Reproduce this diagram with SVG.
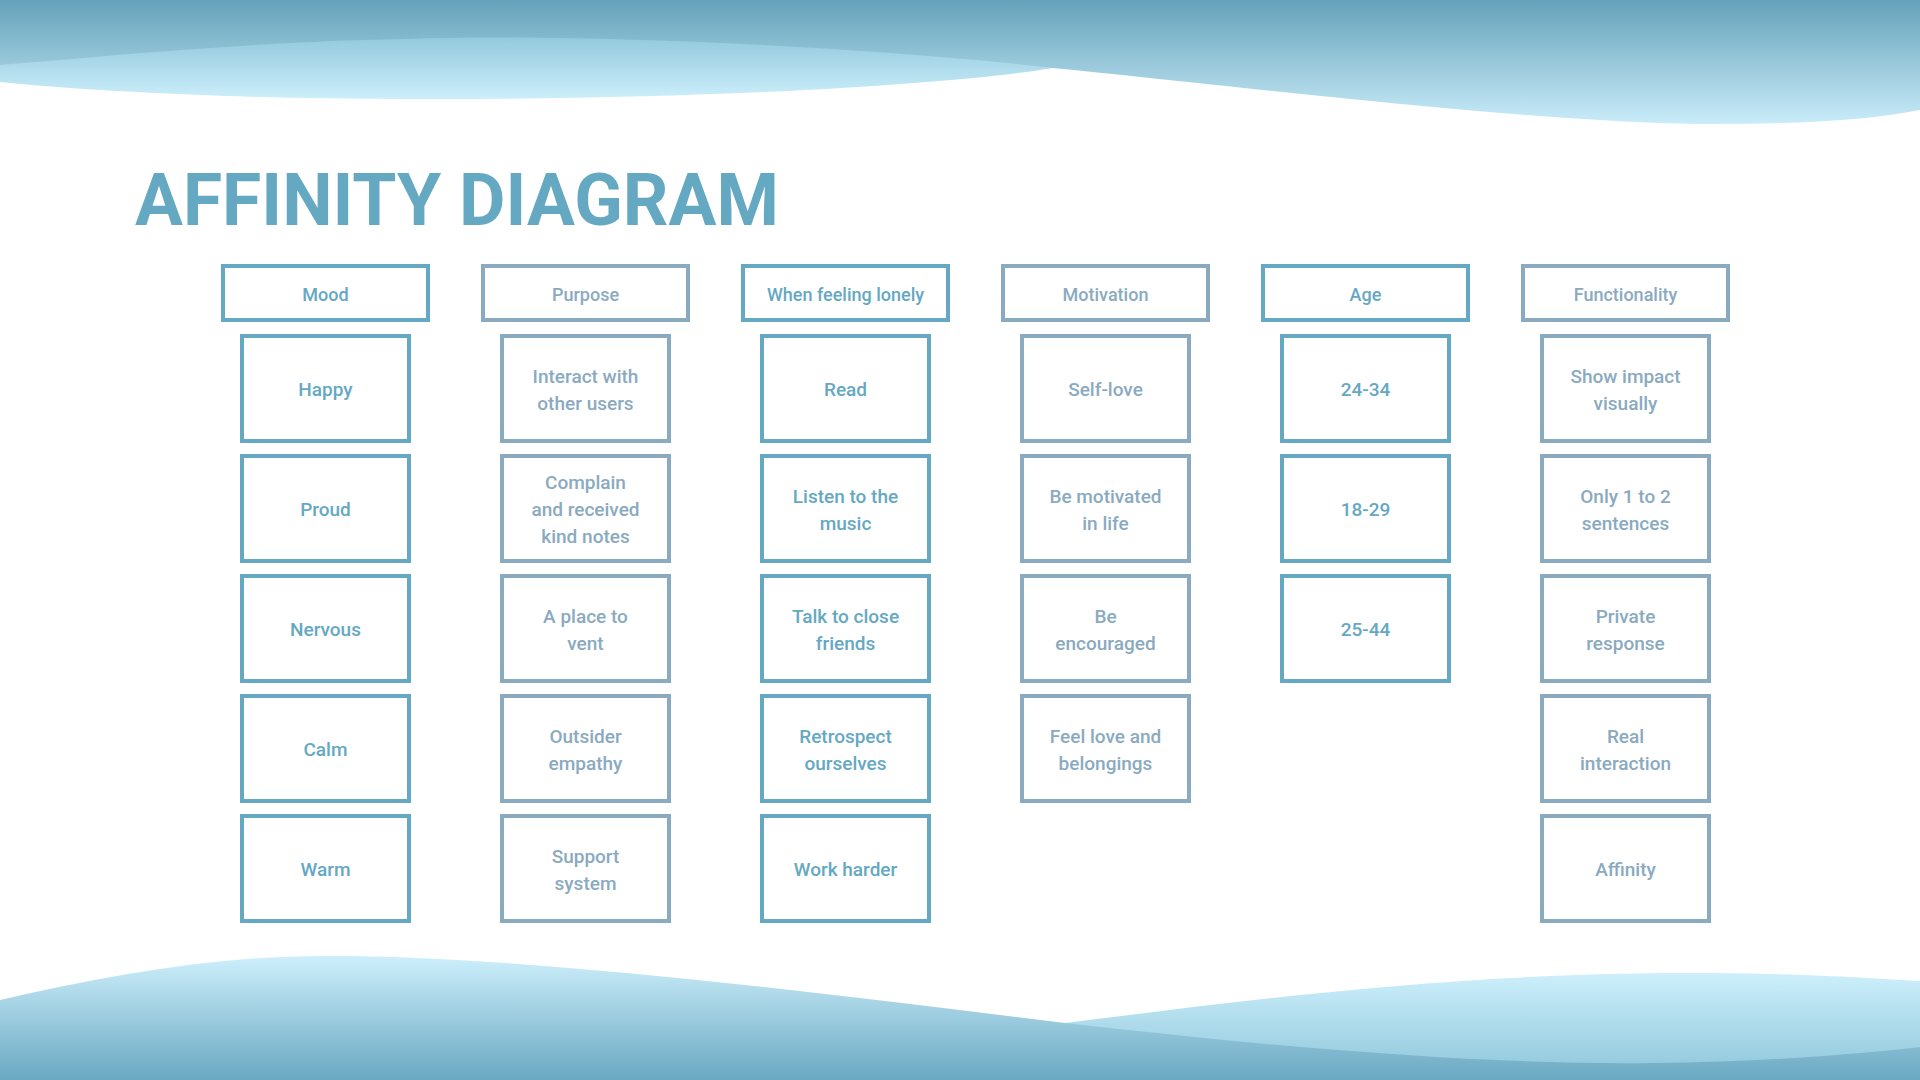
<svg xmlns="http://www.w3.org/2000/svg" width="1920" height="1080" viewBox="0 0 1920 1080">
<defs>
<linearGradient id="gTopDark" gradientUnits="userSpaceOnUse" x1="0" y1="0" x2="0" y2="126">
<stop offset="0" stop-color="#65A2BA"/><stop offset="1" stop-color="#CBEDFA"/>
</linearGradient>
<linearGradient id="gTopLight" gradientUnits="userSpaceOnUse" x1="0" y1="34" x2="0" y2="100">
<stop offset="0" stop-color="#90C7DC"/><stop offset="1" stop-color="#CDEFFB"/>
</linearGradient>
<linearGradient id="gBotFront" gradientUnits="userSpaceOnUse" x1="0" y1="956" x2="0" y2="1080">
<stop offset="0" stop-color="#CDEFFB"/><stop offset="1" stop-color="#6AA8C2"/>
</linearGradient>
<linearGradient id="gBotBack" gradientUnits="userSpaceOnUse" x1="0" y1="973" x2="0" y2="1080">
<stop offset="0" stop-color="#CDEFFB"/><stop offset="1" stop-color="#8CC5DA"/>
</linearGradient>
<style>
.teal rect{fill:#FFFFFF;stroke:#65A8C2;stroke-width:4}
.teal text{fill:#65A8C2}
.grey rect{fill:#FFFFFF;stroke:#8AAAC0;stroke-width:4}
.grey text{fill:#8AAAC0}
text{font-family:Roboto,"Liberation Sans",Arial,sans-serif;font-weight:500;text-anchor:middle}
.hd{font-size:18px}
.bx{font-size:19px}
.title{font-family:Roboto,"Liberation Sans",Arial,sans-serif;font-weight:700;font-size:73px;fill:#65A8C2;text-anchor:start}
</style>
</defs>
<g id="background">
<path d="M0,30 H1053 V68 C950,85 700,100 404,99 C250,99 100,92 0,82 Z" fill="url(#gTopLight)"/>
<path d="M0,0 H1920 V110 C1870,120 1800,124 1714,124 C1550,125 1200,82 1053,68 C900,50 600,32 404,39 C250,42 120,55 0,65 Z" fill="url(#gTopDark)"/>
<path d="M1065,1023 C1250,1000 1450,973 1690,973 C1800,973 1870,978 1920,981 V1080 H1065 Z" fill="url(#gBotBack)"/>
<path d="M0,1000 C110,975 220,955 331,956 C520,956 800,990 1065,1023 C1300,1050 1500,1065 1653,1063 C1760,1062 1850,1055 1920,1047 V1080 H0 Z" fill="url(#gBotFront)"/>
</g>
<text id="title" class="title" x="135" y="225" textLength="644" lengthAdjust="spacingAndGlyphs">AFFINITY DIAGRAM</text>
<g id="connectors"></g>

<!-- Column 1: Mood -->
<g id="col-mood" class="teal">
<g id="h-mood"><rect x="223" y="266" width="205" height="54"/><text class="hd" x="325.5" y="300.5">Mood</text></g>
<g id="n-happy"><rect x="242" y="336" width="167" height="105"/><text class="bx" x="325.5" y="396">Happy</text></g>
<g id="n-proud"><rect x="242" y="456" width="167" height="105"/><text class="bx" x="325.5" y="516">Proud</text></g>
<g id="n-nervous"><rect x="242" y="576" width="167" height="105"/><text class="bx" x="325.5" y="636">Nervous</text></g>
<g id="n-calm"><rect x="242" y="696" width="167" height="105"/><text class="bx" x="325.5" y="756">Calm</text></g>
<g id="n-warm"><rect x="242" y="816" width="167" height="105"/><text class="bx" x="325.5" y="876">Warm</text></g>
</g>

<!-- Column 2: Purpose -->
<g id="col-purpose" class="grey">
<g id="h-purpose"><rect x="483" y="266" width="205" height="54"/><text class="hd" x="585.5" y="300.5">Purpose</text></g>
<g id="n-interact"><rect x="502" y="336" width="167" height="105"/><text class="bx" x="585.5" y="383">Interact with</text><text class="bx" x="585.5" y="410">other users</text></g>
<g id="n-complain"><rect x="502" y="456" width="167" height="105"/><text class="bx" x="585.5" y="489">Complain</text><text class="bx" x="585.5" y="516">and received</text><text class="bx" x="585.5" y="543">kind notes</text></g>
<g id="n-vent"><rect x="502" y="576" width="167" height="105"/><text class="bx" x="585.5" y="623">A place to</text><text class="bx" x="585.5" y="650">vent</text></g>
<g id="n-outsider"><rect x="502" y="696" width="167" height="105"/><text class="bx" x="585.5" y="743">Outsider</text><text class="bx" x="585.5" y="770">empathy</text></g>
<g id="n-support"><rect x="502" y="816" width="167" height="105"/><text class="bx" x="585.5" y="863">Support</text><text class="bx" x="585.5" y="890">system</text></g>
</g>

<!-- Column 3: When feeling lonely -->
<g id="col-lonely" class="teal">
<g id="h-lonely"><rect x="743" y="266" width="205" height="54"/><text class="hd" x="845.5" y="300.5">When feeling lonely</text></g>
<g id="n-read"><rect x="762" y="336" width="167" height="105"/><text class="bx" x="845.5" y="396">Read</text></g>
<g id="n-listen"><rect x="762" y="456" width="167" height="105"/><text class="bx" x="845.5" y="503">Listen to the</text><text class="bx" x="845.5" y="530">music</text></g>
<g id="n-talk"><rect x="762" y="576" width="167" height="105"/><text class="bx" x="845.5" y="623">Talk to close</text><text class="bx" x="845.5" y="650">friends</text></g>
<g id="n-retro"><rect x="762" y="696" width="167" height="105"/><text class="bx" x="845.5" y="743">Retrospect</text><text class="bx" x="845.5" y="770">ourselves</text></g>
<g id="n-work"><rect x="762" y="816" width="167" height="105"/><text class="bx" x="845.5" y="876">Work harder</text></g>
</g>

<!-- Column 4: Motivation -->
<g id="col-motivation" class="grey">
<g id="h-motivation"><rect x="1003" y="266" width="205" height="54"/><text class="hd" x="1105.5" y="300.5">Motivation</text></g>
<g id="n-selflove"><rect x="1022" y="336" width="167" height="105"/><text class="bx" x="1105.5" y="396">Self-love</text></g>
<g id="n-motivated"><rect x="1022" y="456" width="167" height="105"/><text class="bx" x="1105.5" y="503">Be motivated</text><text class="bx" x="1105.5" y="530">in life</text></g>
<g id="n-encouraged"><rect x="1022" y="576" width="167" height="105"/><text class="bx" x="1105.5" y="623">Be</text><text class="bx" x="1105.5" y="650">encouraged</text></g>
<g id="n-feellove"><rect x="1022" y="696" width="167" height="105"/><text class="bx" x="1105.5" y="743">Feel love and</text><text class="bx" x="1105.5" y="770">belongings</text></g>
</g>

<!-- Column 5: Age -->
<g id="col-age" class="teal">
<g id="h-age"><rect x="1263" y="266" width="205" height="54"/><text class="hd" x="1365.5" y="300.5">Age</text></g>
<g id="n-2434"><rect x="1282" y="336" width="167" height="105"/><text class="bx" x="1365.5" y="396">24-34</text></g>
<g id="n-1829"><rect x="1282" y="456" width="167" height="105"/><text class="bx" x="1365.5" y="516">18-29</text></g>
<g id="n-2544"><rect x="1282" y="576" width="167" height="105"/><text class="bx" x="1365.5" y="636">25-44</text></g>
</g>

<!-- Column 6: Functionality -->
<g id="col-functionality" class="grey">
<g id="h-functionality"><rect x="1523" y="266" width="205" height="54"/><text class="hd" x="1625.5" y="300.5">Functionality</text></g>
<g id="n-impact"><rect x="1542" y="336" width="167" height="105"/><text class="bx" x="1625.5" y="383">Show impact</text><text class="bx" x="1625.5" y="410">visually</text></g>
<g id="n-sentences"><rect x="1542" y="456" width="167" height="105"/><text class="bx" x="1625.5" y="503">Only 1 to 2</text><text class="bx" x="1625.5" y="530">sentences</text></g>
<g id="n-private"><rect x="1542" y="576" width="167" height="105"/><text class="bx" x="1625.5" y="623">Private</text><text class="bx" x="1625.5" y="650">response</text></g>
<g id="n-real"><rect x="1542" y="696" width="167" height="105"/><text class="bx" x="1625.5" y="743">Real</text><text class="bx" x="1625.5" y="770">interaction</text></g>
<g id="n-affinity"><rect x="1542" y="816" width="167" height="105"/><text class="bx" x="1625.5" y="876">Affinity</text></g>
</g>
</svg>
